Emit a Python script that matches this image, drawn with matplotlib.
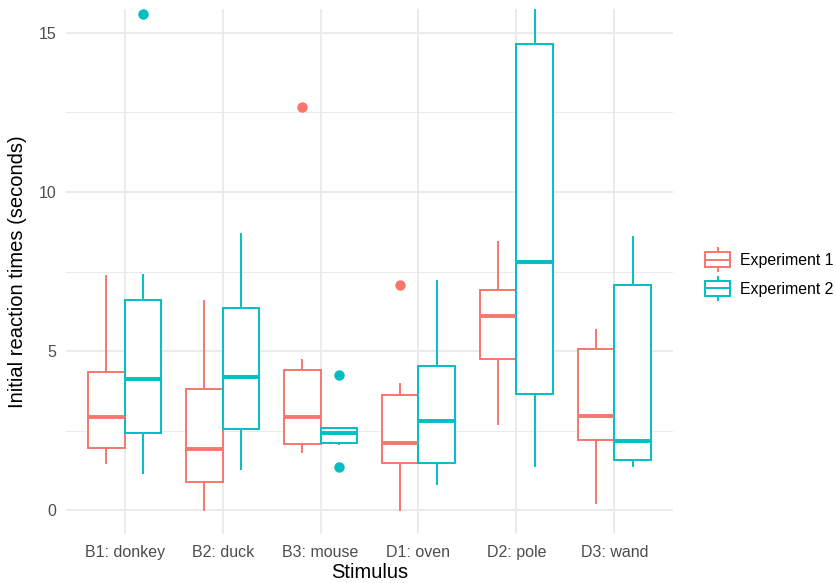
import matplotlib
matplotlib.use("Agg")
import matplotlib.pyplot as plt
from matplotlib.patches import Patch, Rectangle
from matplotlib.lines import Line2D
from matplotlib.legend_handler import HandlerBase

plt.rcParams['font.family'] = ['Liberation Sans', 'DejaVu Sans']

# Data (seconds)
stimuli = ["B1: donkey", "B2: duck", "B3: mouse", "D1: oven", "D2: pole", "D3: wand"]
groups = ["Experiment 1", "Experiment 2"]
colors = ["#F8766D", "#00BFC4"]

# per group: lists over stimuli
exp1_whislo = [1.49, 0.00, 1.83, 0.00, 2.71, 0.23]
exp1_q1 = [1.96, 0.90, 2.09, 1.47, 4.76, 2.21]
exp1_med = [2.94, 1.93, 2.94, 2.12, 6.11, 2.95]
exp1_q3 = [4.35, 3.82, 4.41, 3.61, 6.93, 5.07]
exp1_whishi = [7.36, 6.56, 4.72, 3.98, 8.44, 5.67]
exp1_fliers = [[], [], [12.68], [7.09], [], []]

exp2_whislo = [1.17, 1.30, 2.07, 0.82, 1.40, 1.40]
exp2_q1 = [2.44, 2.55, 2.12, 1.49, 3.66, 1.57]
exp2_med = [4.12, 4.19, 2.42, 2.81, 7.79, 2.17]
exp2_q3 = [6.62, 6.34, 2.57, 4.52, 14.65, 7.08]
exp2_whishi = [7.38, 8.68, 2.57, 7.19, 18.5, 8.59]
exp2_fliers = [[15.59], [], [4.25, 1.37], [], [], []]

series = [
    (exp1_whislo, exp1_q1, exp1_med, exp1_q3, exp1_whishi, exp1_fliers),
    (exp2_whislo, exp2_q1, exp2_med, exp2_q3, exp2_whishi, exp2_fliers),
]


class BoxHandler(HandlerBase):
    # draws a little boxplot glyph as legend key
    def create_artists(self, legend, orig_handle, xdescent, ydescent,
                       width, height, fontsize, trans):
        c = orig_handle.get_edgecolor()
        x0, y0 = -xdescent, -ydescent
        pad = height * 0.16
        rect = Rectangle((x0, y0 + pad), width, height - 2 * pad,
                         facecolor="white", edgecolor=c, lw=1.4, transform=trans)
        xm = x0 + width / 2
        med = Line2D([x0, x0 + width], [y0 + height / 2] * 2, color=c, lw=1.4, transform=trans)
        w1 = Line2D([xm, xm], [y0, y0 + pad], color=c, lw=1.4, transform=trans)
        w2 = Line2D([xm, xm], [y0 + height - pad, y0 + height], color=c, lw=1.4, transform=trans)
        return [rect, med, w1, w2]


fig = plt.figure(figsize=(8.36, 5.83), dpi=100)
ax = fig.add_axes([66 / 836, 49 / 583, 607 / 836, 525 / 583])

dodge = 0.1875
for g, (lo, q1, med, q3, hi, fl) in enumerate(series):
    stats = []
    for i in range(len(stimuli)):
        stats.append(dict(whislo=lo[i], q1=q1[i], med=med[i], q3=q3[i],
                          whishi=hi[i], fliers=fl[i]))
    pos = [i + 1 + (g * 2 - 1) * dodge for i in range(len(stimuli))]
    c = colors[g]
    ax.bxp(stats, positions=pos, widths=0.375, showcaps=False, patch_artist=True,
           boxprops=dict(facecolor="white", edgecolor=c, lw=1.4),
           whiskerprops=dict(color=c, lw=1.4),
           medianprops=dict(color=c, lw=2.8, solid_capstyle="butt"),
           flierprops=dict(marker="o", markerfacecolor=c, markeredgecolor=c,
                           markersize=6.5, linestyle="none"),
           manage_ticks=False, zorder=3)

ax.set_xlim(0.4, 6.6)
ax.set_ylim(-0.75, 15.75)
ax.set_xticks(range(1, len(stimuli) + 1))
ax.set_xticklabels(stimuli)
ax.set_yticks([0, 5, 10, 15])
ax.set_yticks([2.5, 7.5, 12.5], minor=True)

ax.grid(True, which="major", color="#EBEBEB", lw=1.4, zorder=0)
ax.grid(True, which="minor", axis="y", color="#EBEBEB", lw=0.7, zorder=0)
ax.set_axisbelow(True)
for s in ax.spines.values():
    s.set_visible(False)
ax.tick_params(axis="both", which="both", length=0, labelsize=11.5, labelcolor="#4D4D4D")
ax.tick_params(axis="x", pad=8)
ax.tick_params(axis="y", pad=7)

ax.set_xlabel("Stimulus", fontsize=14.5, labelpad=2)
ax.set_ylabel("Initial reaction times (seconds)", fontsize=14.5, labelpad=8)

handles = [Patch(edgecolor=c, facecolor="white", label=l) for c, l in zip(colors, groups)]
fig.legend(handles=handles, handler_map={Patch: BoxHandler()},
           loc="center left", bbox_to_anchor=(705 / 836, 1 - 274 / 583),
           frameon=False, fontsize=11.4, handlelength=1.6, handleheight=1.9,
           labelspacing=0.35, handletextpad=0.6, borderpad=0, borderaxespad=0)

fig.savefig("out.png", dpi=100)
